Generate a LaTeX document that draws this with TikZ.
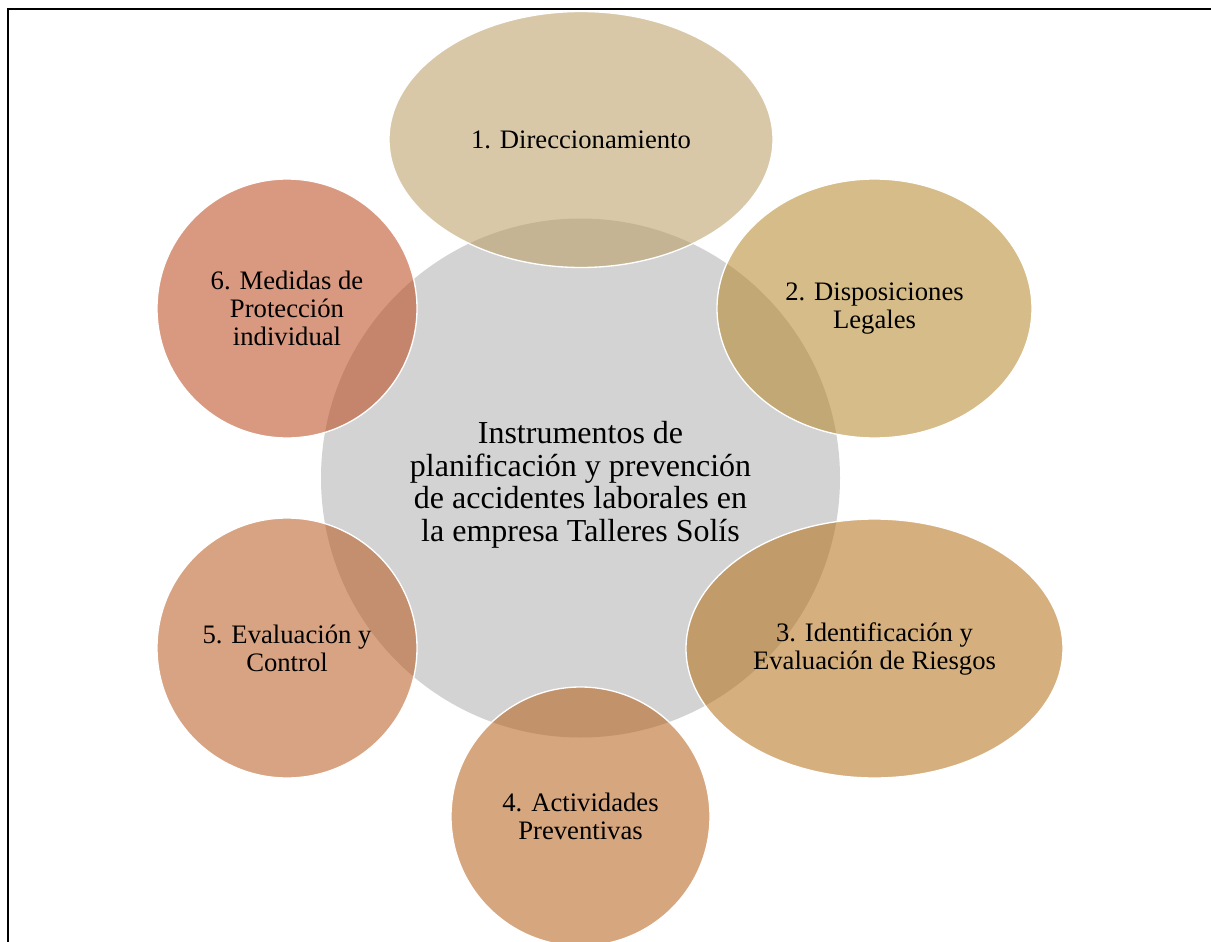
\documentclass[tikz,border=0pt]{standalone}
\usepackage{fontspec}
\setmainfont{Liberation Serif}
\usepackage{tikz}
\usetikzlibrary{shapes.geometric}
\usepackage{xcolor}

% Colori delle fasi (fill opacity 0.55)
\definecolor{grisCentro}{RGB}{211,211,211}
\definecolor{colDir}{RGB}{184,155,97}
\definecolor{colDisp}{RGB}{179,133,39}
\definecolor{colIdent}{RGB}{179,111,20}
\definecolor{colActiv}{RGB}{181,93,20}
\definecolor{colEval}{RGB}{184,88,28}
\definecolor{colMedidas}{RGB}{186,68,24}

\begin{document}
\begin{tikzpicture}[x = 0.75pt, y = -0.75pt,
    fase/.style = {ellipse, draw = white, line width = 1pt, fill opacity = 0.55,
        text opacity = 1, inner sep = 0pt, align = center,
        font = \fontsize{20}{21}\selectfont}]
    % Marco
    \useasboundingbox (0,0) rectangle (1211,942);
    \draw[line width = 1.5pt] (8,942) -- (8,9) -- (1211,9);

    % Circulo central
    \node[circle, fill = grisCentro, minimum size = 389.25pt, inner sep = 0pt] (centro) at (580.5,478) {};
    \node[align = center, font = \fontsize{24}{24.5}\selectfont] (titulo) at ([yshift = -5pt]centro.center)
        {Instrumentos de\\planificación y prevención\\de accidentes laborales en\\la empresa Talleres Solís};

    % Fasi
    \node[fase, fill = colDir, minimum width = 288pt, minimum height = 192pt] (dir) at (581,139.5)
        {1. Direccionamiento};
    \node[fase, fill = colDisp, minimum width = 236.25pt, minimum height = 194.25pt] (disp) at (874.5,308.5)
        {2. Disposiciones\\Legales};
    \node[fase, fill = colIdent, minimum width = 282.75pt, minimum height = 194.25pt] (ident) at (874.5,648.5)
        {3. Identificación y\\Evaluación de Riesgos};
    \node[fase, fill = colActiv, minimum width = 194.25pt, minimum height = 194.25pt] (activ) at (580.5,816.5)
        {4. Actividades\\Preventivas};
    \node[fase, fill = colEval, minimum width = 195pt, minimum height = 195pt] (eval) at (287,648)
        {5. Evaluación y\\Control};
    \node[fase, fill = colMedidas, minimum width = 195pt, minimum height = 194.25pt] (medidas) at (287,308.5)
        {6. Medidas de\\Protección\\individual};
\end{tikzpicture}
\end{document}
